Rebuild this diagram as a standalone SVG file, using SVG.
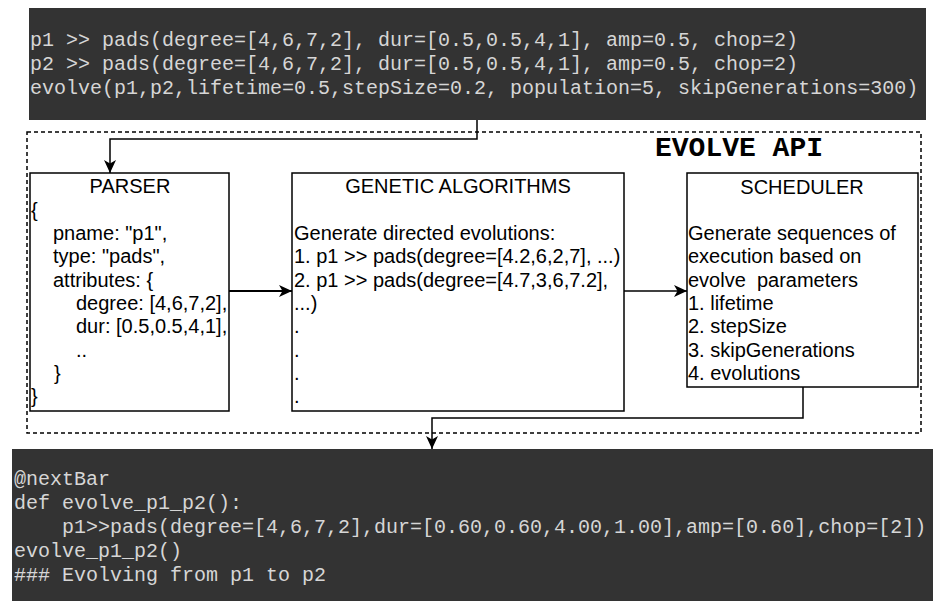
<svg xmlns="http://www.w3.org/2000/svg" width="933" height="601" viewBox="0 0 933 601">
  <style>
    .code-bg { fill: #333333; }
    .code { font-family: "Liberation Mono", "Courier New", monospace; font-size: 20px; fill: #d6d6d6; white-space: pre; }
    .box { fill: #ffffff; stroke: #000000; stroke-width: 1.5; }
    .txt { font-family: "Liberation Sans", Arial, sans-serif; font-size: 20px; fill: #000000; white-space: pre; }
    .title { text-anchor: middle; }
    .api { fill: none; stroke: #000000; stroke-width: 1.5; stroke-dasharray: 4 3; }
    .api-label { font-family: "Liberation Mono", "Courier New", monospace; font-weight: bold; font-size: 28px; fill: #000000; }
    .edge { fill: none; stroke: #000000; stroke-width: 1.5; }
    .edge-bold { stroke-width: 2.2; }
  </style>
  <defs>
    <marker id="arrow" markerUnits="userSpaceOnUse" markerWidth="14" markerHeight="14" viewBox="0 0 14 14" refX="13" refY="7" orient="auto">
      <path d="M0,1 L13,7 L0,13 L3.5,7 Z" fill="#000000"/>
    </marker>
  </defs>

  <!-- input program -->
  <g id="input-code">
    <rect class="code-bg" x="29" y="8" width="897" height="112"/>
    <text class="code" x="30" y="46">p1 &gt;&gt; pads(degree=[4,6,7,2], dur=[0.5,0.5,4,1], amp=0.5, chop=2)</text>
    <text class="code" x="30" y="70">p2 &gt;&gt; pads(degree=[4,6,7,2], dur=[0.5,0.5,4,1], amp=0.5, chop=2)</text>
    <text class="code" x="30" y="94">evolve(p1,p2,lifetime=0.5,stepSize=0.2, population=5, skipGenerations=300)</text>
  </g>

  <!-- API boundary -->
  <g id="evolve-api">
    <rect class="api" x="27" y="132" width="894" height="301"/>
    <text class="api-label" x="655" y="156">EVOLVE API</text>
  </g>

  <g id="parser">
    <rect class="box" x="30" y="173" width="199" height="238"/>
    <text class="txt title" x="130" y="193">PARSER</text>
    <text class="txt" x="31" y="216.5">{</text>
    <text class="txt" x="53" y="240">pname: "p1",</text>
    <text class="txt" x="53" y="263">type: "pads",</text>
    <text class="txt" x="53" y="286.5">attributes: {</text>
    <text class="txt" x="76" y="310">degree: [4,6,7,2],</text>
    <text class="txt" x="76" y="333">dur: [0.5,0.5,4,1],</text>
    <text class="txt" x="76" y="356.5">..</text>
    <text class="txt" x="54" y="380">}</text>
    <text class="txt" x="31" y="403">}</text>
  </g>

  <g id="genetic-algorithms">
    <rect class="box" x="292" y="173" width="332" height="238"/>
    <text class="txt title" x="458" y="193">GENETIC ALGORITHMS</text>
    <text class="txt" x="294" y="240">Generate directed evolutions:</text>
    <text class="txt" x="294" y="263">1. p1 &gt;&gt; pads(degree=[4.2,6,2,7], ...)</text>
    <text class="txt" x="294" y="286.5">2. p1 &gt;&gt; pads(degree=[4.7,3,6,7.2],</text>
    <text class="txt" x="294" y="310">...)</text>
    <text class="txt" x="294" y="333">.</text>
    <text class="txt" x="294" y="356.5">.</text>
    <text class="txt" x="294" y="380">.</text>
    <text class="txt" x="294" y="403">.</text>
  </g>

  <g id="scheduler">
    <rect class="box" x="687" y="173" width="231" height="214"/>
    <text class="txt title" x="802" y="194">SCHEDULER</text>
    <text class="txt" x="688" y="240">Generate sequences of</text>
    <text class="txt" x="688" y="263">execution based on</text>
    <text class="txt" x="688" y="286.5">evolve  parameters</text>
    <text class="txt" x="688" y="310">1. lifetime</text>
    <text class="txt" x="688" y="333">2. stepSize</text>
    <text class="txt" x="688" y="356.5">3. skipGenerations</text>
    <text class="txt" x="688" y="380">4. evolutions</text>
  </g>

  <!-- generated output -->
  <g id="output-code">
    <rect class="code-bg" x="12" y="449" width="921" height="152"/>
    <text class="code" x="14" y="485">@nextBar</text>
    <text class="code" x="14" y="509">def evolve_p1_p2():</text>
    <text class="code" x="14" y="533">    p1&gt;&gt;pads(degree=[4,6,7,2],dur=[0.60,0.60,4.00,1.00],amp=[0.60],chop=[2])</text>
    <text class="code" x="14" y="557">evolve_p1_p2()</text>
    <text class="code" x="14" y="581">### Evolving from p1 to p2</text>
  </g>

  <g id="connectors">
    <path class="edge" d="M477,120 V139 H110 V173" marker-end="url(#arrow)"/>
    <path class="edge edge-bold" d="M229,291 H292" marker-end="url(#arrow)"/>
    <path class="edge" d="M624,291 H687" marker-end="url(#arrow)"/>
    <path class="edge" d="M803,387 V418 H432 V449" marker-end="url(#arrow)"/>
  </g>
</svg>
